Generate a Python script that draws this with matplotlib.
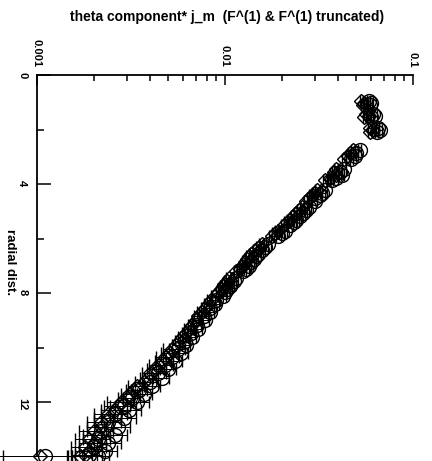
import matplotlib
matplotlib.use('Agg')
import matplotlib.pyplot as plt
import matplotlib.ticker as ticker
import numpy as np

plt.rcParams['font.family'] = ['Liberation Sans', 'DejaVu Sans']
plt.rcParams['font.weight'] = 'bold'

title = 'theta component* j_m  (F^(1) & F^(1) truncated)'
ylabel = 'radial dist.'
xticks = [0.001, 0.01, 0.1]
xticklabels = ['0.001', '0.01', '0.1']
yticks = [0, 4, 8, 12]
yticklabels = ['0', '4', '8', '12']
yminor = [2, 6, 10]

# radial distances (shared by both series)
r = [0.95, 1.0, 1.08, 1.4, 1.47, 1.52, 1.92, 2.0, 2.08,
     2.75, 2.85, 2.95, 3.05, 3.45, 3.55, 3.65, 3.75, 3.85,
     4.2, 4.3, 4.4, 4.5, 4.6, 4.85, 4.95, 5.05, 5.15,
     5.3, 5.4, 5.5, 5.7, 5.8, 5.9, 6.2, 6.3, 6.4,
     6.55, 6.65, 6.75, 6.85, 7.0, 7.1, 7.2,
     7.45, 7.55, 7.65, 7.75, 7.85, 7.95,
     8.1, 8.25, 8.4, 8.55, 8.7, 8.85, 9.0, 9.15, 9.3, 9.45, 9.6, 9.75, 9.9,
     10.05, 10.2, 10.35, 10.5, 10.65, 10.8, 10.95, 11.1, 11.25, 11.4, 11.55, 11.7, 11.85,
     12.0, 12.15, 12.3, 12.45, 12.6, 12.75, 12.9, 13.05, 13.2, 13.35, 13.5, 13.65, 13.8, 13.95,
     14.0, 14.0]

# F^(1)  (circles)
f1 = [0.058, 0.060, 0.059, 0.061, 0.063, 0.060, 0.065, 0.067, 0.064,
      0.052, 0.050, 0.049, 0.047, 0.043, 0.041, 0.042, 0.039, 0.037,
      0.034, 0.033, 0.032, 0.030, 0.030, 0.028, 0.027, 0.026, 0.025,
      0.0240, 0.0232, 0.0222, 0.0208, 0.0200, 0.0192, 0.0170, 0.0164, 0.0158,
      0.0150, 0.0146, 0.0142, 0.0138, 0.0134, 0.0130, 0.0125,
      0.0114, 0.0111, 0.0108, 0.0106, 0.0103, 0.0100,
      0.0097, 0.0090, 0.0089, 0.0083, 0.0083, 0.0077, 0.0078, 0.0071, 0.0072, 0.0066, 0.0067, 0.0061, 0.0062,
      0.0056, 0.0058, 0.0052, 0.0054, 0.0048, 0.0050, 0.0044, 0.0046, 0.0040, 0.0041, 0.0035, 0.0037, 0.0032,
      0.0034, 0.0029, 0.0031, 0.0026, 0.0029, 0.0024, 0.0027, 0.0022, 0.0026, 0.0021, 0.0024, 0.0020, 0.0023, 0.0019,
      0.0011, 0.0021]

# F^(1) truncated  (diamonds)
f1t = [0.053, 0.055, 0.054, 0.056, 0.058, 0.055, 0.059, 0.061, 0.059,
       0.048, 0.046, 0.045, 0.043, 0.039, 0.038, 0.039, 0.036, 0.034,
       0.031, 0.030, 0.029, 0.028, 0.027, 0.0257, 0.0248, 0.0240, 0.0231,
       0.0221, 0.0213, 0.0205, 0.0191, 0.0184, 0.0177, 0.0157, 0.0151, 0.0145,
       0.0138, 0.0134, 0.0131, 0.0127, 0.0123, 0.0120, 0.0115,
       0.0105, 0.0102, 0.0099, 0.0097, 0.0095, 0.0092,
       0.0089, 0.0084, 0.0081, 0.0078, 0.0075, 0.0072, 0.0070, 0.0067, 0.0064, 0.0062, 0.0059, 0.0057, 0.0055,
       0.0052, 0.0051, 0.0048, 0.0047, 0.0044, 0.0043, 0.0040, 0.0039, 0.0037, 0.0034, 0.0033, 0.0031, 0.0030,
       0.0028, 0.0027, 0.0026, 0.0024, 0.0024, 0.0022, 0.0022, 0.0020, 0.0021, 0.0019, 0.0020, 0.0018, 0.0019, 0.0018,
       0.00104, 0.0017]

# relative errors
rel_err = [0.02, 0.02, 0.02, 0.02, 0.02, 0.02, 0.02, 0.02, 0.02,
           0.02, 0.02, 0.02, 0.02, 0.02, 0.02, 0.02, 0.02, 0.02,
           0.03, 0.03, 0.03, 0.03, 0.03, 0.03, 0.03, 0.03, 0.03,
           0.03, 0.03, 0.03, 0.03, 0.03, 0.03, 0.03, 0.03, 0.03,
           0.03, 0.03, 0.03, 0.03, 0.03, 0.03, 0.03,
           0.03, 0.03, 0.03, 0.03, 0.03, 0.03,
           0.05, 0.05, 0.05, 0.05, 0.05, 0.05, 0.05, 0.05, 0.05, 0.05, 0.05, 0.05, 0.05,
           0.10, 0.10, 0.10, 0.10, 0.10, 0.10, 0.10, 0.10, 0.10, 0.10, 0.10, 0.10, 0.10,
           0.16, 0.16, 0.16, 0.16, 0.16, 0.16, 0.16, 0.16, 0.16, 0.16, 0.16, 0.16, 0.16, 0.16,
           0.4, 0.15]


def draw_series(ax, vals, marker, ms):
    vals = np.array(vals)
    err = vals * np.array(rel_err)
    cont = ax.errorbar(vals, r, xerr=err, fmt=marker, ms=ms, mfc='none', mec='k',
                       mew=1.0, ecolor='k', elinewidth=0.7, capsize=4, capthick=0.7)
    for art in cont.get_children():
        art.set_clip_on(False)


def main():
    assert len(r) == len(f1) == len(f1t) == len(rel_err)
    fig = plt.figure(figsize=(4.32, 4.61), dpi=100)
    ax = fig.add_axes([37 / 432, 1 - 456.5 / 461, (413 - 37) / 432, (456.5 - 75.5) / 461])

    draw_series(ax, f1t, 'D', 7.5)
    draw_series(ax, f1, 'o', 10)

    ax.set_xscale('log')
    ax.set_xlim(0.001, 0.1)
    ax.set_ylim(14, 0)
    ax.xaxis.tick_top()
    ax.xaxis.set_major_locator(ticker.FixedLocator(xticks))
    ax.xaxis.set_major_formatter(ticker.FixedFormatter(xticklabels))
    ax.xaxis.set_minor_formatter(ticker.NullFormatter())
    ax.yaxis.set_major_locator(ticker.FixedLocator(yticks))
    ax.yaxis.set_major_formatter(ticker.FixedFormatter(yticklabels))
    ax.yaxis.set_minor_locator(ticker.FixedLocator(yminor))

    ax.spines['right'].set_visible(False)
    ax.spines['bottom'].set_visible(False)
    ax.spines['left'].set_linewidth(1.3)
    ax.spines['top'].set_linewidth(1.3)

    ax.tick_params(axis='x', which='major', direction='in', length=7, width=1.1,
                   labelsize=8, pad=6, labelrotation=-90)
    ax.tick_params(axis='x', which='minor', direction='in', length=4, width=1.1)
    ax.tick_params(axis='y', which='major', direction='in', length=10, width=1.1,
                   labelsize=8, pad=7, labelrotation=-90)
    ax.tick_params(axis='y', which='minor', direction='in', length=5, width=1.1)

    fig.text(227 / 432, 1 - 17 / 461, title, ha='center', va='center',
             fontsize=10, fontweight='bold')
    fig.text(10 / 432, 1 - 262 / 461, ylabel, rotation=-90, ha='center', va='center',
             fontsize=9.5, fontweight='bold')

    fig.savefig('out.png', dpi=100)


if __name__ == '__main__':
    main()
